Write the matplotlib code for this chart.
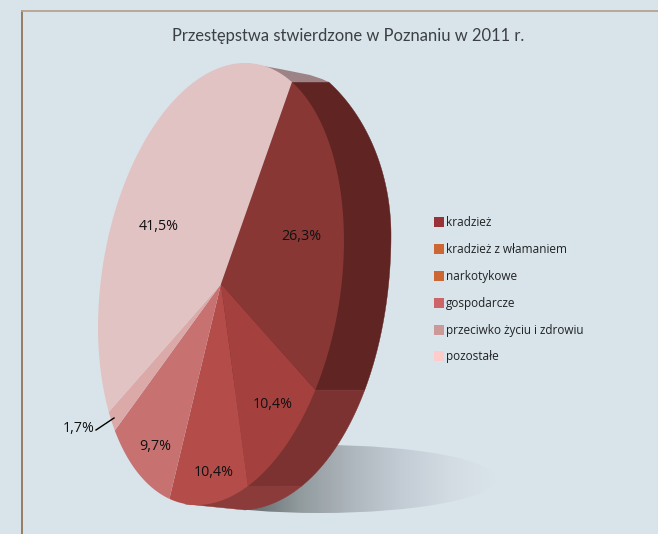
import numpy as np
import matplotlib
matplotlib.use("Agg")
import matplotlib.pyplot as plt
from matplotlib.colors import LinearSegmentedColormap
from matplotlib.patches import Polygon, Ellipse, Rectangle
from matplotlib.lines import Line2D

title = "Przestępstwa stwierdzone w Poznaniu w 2011 r."
categories = ["kradzież", "kradzież z włamaniem", "narkotykowe", "gospodarcze",
              "przeciwko życiu i zdrowiu", "pozostałe"]
slice_values = [26.3, 10.4, 10.4, 9.7, 1.7, 41.5]
slice_labels = ["26,3%", "10,4%", "10,4%", "9,7%", "1,7%", "41,5%"]
slice_colors = ["#883735", "#a4413f", "#b44d49", "#c77271", "#dba9a8", "#e2c3c3"]
side_colors = ["#602422", "#7b3231", "#8b3b39"]
legend_colors = ["#983236", "#cc6733", "#cc6733", "#cc6468", "#cc9999", "#ffcccc"]

BG = "#d9e4ea"
W, H = 658, 534
fig = plt.figure(figsize=(W / 100, H / 100), dpi=100, facecolor=BG)
ax = fig.add_axes([0, 0, 1, 1])
ax.set_xlim(0, W); ax.set_ylim(H, 0); ax.axis("off")

# frame
ax.add_line(Line2D([21.5, 21.5], [H, 11], color="#8f7556", lw=1.3))
ax.add_line(Line2D([21.5, W], [11, 11], color="#b7a38d", lw=1.3))

ax.text(348, 36, title, ha="center", va="center", fontsize=11.9, color="#3a4044",
        family="Lato")

# the front face is an ellipse sheared by the 3D view
cx, cy, rx, shear, ry = 221, 284, 120.6, 24, 221
sx, sy, srx, sry_up, sry_low = 240, 235, 151, 189, 275
start = 24

angles = start + 3.6 * np.concatenate([[0], np.cumsum(slice_values)])


def pt(a):
    r = np.radians(a)
    return cx + rx * np.sin(r) + shear * np.cos(r), cy - ry * np.cos(r)


def side_x(y):
    y = np.asarray(y, float)
    d = np.where(y < sy, (y - sy) / sry_up, (y - sy) / sry_low)
    return sx + srx * np.sqrt(np.clip(1 - d ** 2, 0, 1))


# shadow
shx, shy, shrx, shry = 320, 479, 176, 34
cmap = LinearSegmentedColormap.from_list(
    "shadow", [(0, "#60686b"), (0.22, "#929b9e"), (0.42, "#aeb6bd"),
               (0.62, "#c3ccd4"), (0.82, "#d3dce3"), (1, BG)])
im = ax.imshow(np.linspace(0, 1, 256).reshape(1, -1), cmap=cmap, vmin=0, vmax=1,
               extent=[245, 497, shy + shry, shy - shry], aspect="auto", zorder=1)
ax.set_xlim(0, W); ax.set_ylim(H, 0)
im.set_clip_path(Ellipse((shx, shy), 2 * shrx, 2 * shry, transform=ax.transData))


# extruded side, cut into horizontal bands at the ends of the slices
def band(y0, y1, color, tail):
    ys = np.linspace(y0, y1, 200)
    pts = list(zip(side_x(ys), ys)) + tail
    ax.add_patch(Polygon(pts, closed=True, fc=color, ec=color, lw=0.3, zorder=2))


y_top = pt(angles[0])[1]
y_a = pt(angles[1])[1]
y_b = pt(angles[2])[1]
band(y_top, y_a, side_colors[0], [(cx, y_a), (cx, y_top)])
band(y_a, y_b, side_colors[1], [(cx, y_b), (cx, y_a)])
band(y_b, 509.5, side_colors[2], [(245, 510), (185, 504), (185, y_b)])
ax.add_patch(Polygon([pt(angles[0]), (float(side_x(y_top)), y_top), (322, 79), (310, 75),
                      (280, 69), (252, 64), (240, 63)],
                     closed=True, fc="#9d8385", ec="none", zorder=2))

# front slices
for i, col in enumerate(slice_colors):
    a = np.linspace(angles[i], angles[i + 1], 200)
    x, y = pt(a)
    pts = [(cx, cy)] + list(zip(x, y))
    ax.add_patch(Polygon(pts, closed=True, fc=col, ec="none", zorder=3))

# labels
label_pos = [(301, 236), (273, 404), (214, 473), (155, 446), (79, 429), (159, 226)]
for (x, y), s in zip(label_pos, slice_labels):
    ax.text(x, y, s, ha="center", va="center", fontsize=10.3, color="#111111",
            family="Open Sans", zorder=5)
ax.add_line(Line2D([96, 114], [430, 418], color="black", lw=1.0, zorder=5))

# legend
leg_y = [222, 249, 276, 302.5, 329.5, 356]
for y, c, s in zip(leg_y, legend_colors, categories):
    ax.add_patch(Rectangle((434, y - 5), 10, 10, fc=c, ec="none", zorder=5))
    ax.text(446, y + 0.7, s, ha="left", va="center", fontsize=8.5, color="#1f2224",
            family="Open Sans", zorder=5)

fig.savefig("out.png", dpi=100, facecolor=BG)
